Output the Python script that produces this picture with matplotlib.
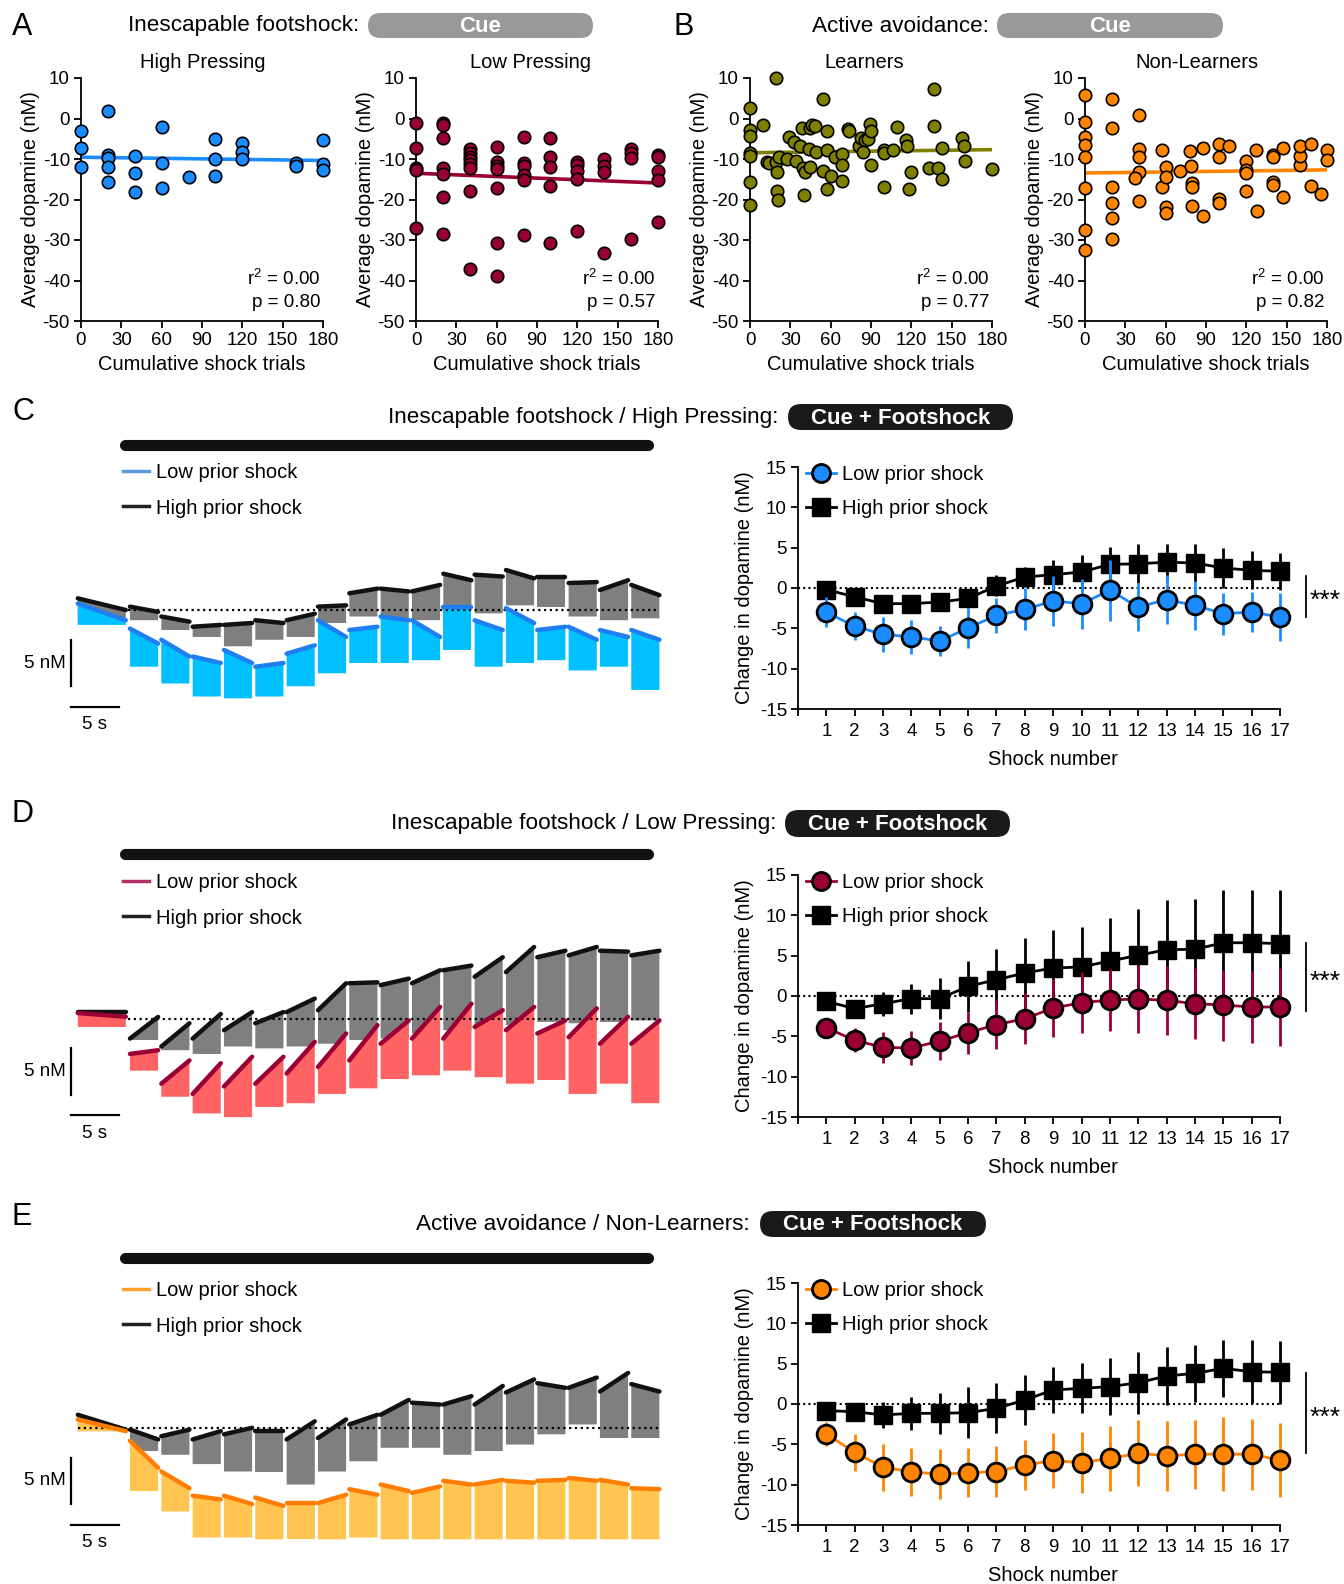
import matplotlib
matplotlib.use("Agg")
import matplotlib.pyplot as plt
import numpy as np
from matplotlib.lines import Line2D
from matplotlib.patches import FancyBboxPatch

plt.rcParams["font.family"] = ["Liberation Sans", "DejaVu Sans"]
plt.rcParams["mathtext.fontset"] = "custom"
plt.rcParams["mathtext.rm"] = "Liberation Sans"
plt.rcParams["axes.unicode_minus"] = False

W, H = 1344, 1584

# ---------------- panel A / B scatter data ----------------
hp_x = [0, 0, 0, 20, 20, 20, 20, 20, 40, 40, 40, 60, 60, 60, 80,
        100, 100, 100, 120, 120, 120, 160, 160, 180, 180, 180]
hp_y = [-3.1, -7.4, -11.9, 1.9, -8.9, -9.7, -11.9, -15.6, -9.3, -13.4, -18.2,
        -2.1, -10.9, -17.1, -14.5, -5.0, -10.1, -14.1, -6.0, -8.2, -9.9,
        -11.1, -11.8, -5.3, -11.3, -12.6]

lp_x = [0, 0, 0, 0, 0,
        20, 20, 20, 20, 20, 20, 20,
        40, 40, 40, 40, 40, 40, 40, 40,
        60, 60, 60, 60, 60, 60, 60,
        80, 80, 80, 80, 80, 80,
        100, 100, 100, 100, 100,
        120, 120, 120, 120, 120,
        140, 140, 140, 140,
        160, 160, 160, 160,
        180, 180, 180, 180, 180]
lp_y = [-1.1, -7.4, -12.1, -12.6, -27.0,
        -1.1, -1.6, -4.9, -12.2, -13.6, -19.3, -28.6,
        -7.6, -8.6, -9.5, -10.3, -11.3, -12.3, -17.9, -37.2,
        -7.1, -10.8, -11.7, -12.5, -17.1, -30.8, -39.0,
        -4.5, -11.1, -11.8, -14.0, -15.2, -28.8,
        -4.8, -9.5, -11.9, -16.6, -30.8,
        -10.8, -11.6, -13.0, -15.0, -27.8,
        -10.1, -11.7, -13.1, -33.1,
        -7.6, -8.6, -9.7, -29.8,
        -8.9, -9.5, -12.9, -15.2, -25.5]

ln_x = [0, 0, 0, 0, 0, 0, 0, 9.4, 12.9, 14, 19.4, 19.4, 20, 20, 20.6, 21.8,
        27.3, 28.8, 32.8, 34, 37, 38.5, 39.7, 40.2, 41, 44, 44.4, 44.4, 46, 48,
        49, 54, 54, 57.6, 57, 57.6, 60.3, 63.3, 68.7, 68.7, 68.7, 73.2, 73.4,
        81, 82.6, 83.7, 85.7, 88, 89, 90.3, 90, 100, 100, 100, 106, 109, 116,
        117, 118, 120, 133.5, 137, 137, 140, 143, 143, 157.6, 159, 159.6, 180]
ln_y = [2.6, -2.8, -4.3, -8.6, -9.2, -15.6, -21.4, -1.6, -10.8, -11.0, 10.0,
        -10.8, -13.1, -17.8, -20.1, -9.6, -10.1, -4.6, -5.7, -10.6, -6.9, -2.4,
        -12.1, -18.9, -13.1, -7.5, -2.4, -11.9, -1.6, -1.8, -8.3, 4.8, -12.9,
        -3.2, -7.9, -17.5, -14.2, -9.6, -8.8, -11.6, -15.4, -2.6, -3.2, -6.9,
        -4.9, -8.2, -5.3, -5.1, -1.4, -3.2, -11.5, -7.7, -8.6, -16.8, -7.7,
        -2.2, -5.3, -6.8, -17.5, -13.1, -12.3, 7.3, -1.8, -12.1, -7.2, -14.9,
        -4.9, -6.9, -10.5, -12.4]

nl_x = [0, 0, 0, 0, 0, 0, 0, 0,
        20, 20, 20, 20, 20, 20,
        40, 40, 40, 40, 37.5, 40,
        57.6, 57.6, 60, 60, 60, 60, 70.7,
        78, 79, 79.4, 79.4, 79.4, 87.6, 88,
        99.8, 99.8, 99.8, 99.8, 107.4,
        120, 120, 120, 120, 127, 128,
        140, 140, 140, 140, 147.6, 147.6,
        159.6, 159.6, 159.6, 168, 168, 175.7, 180, 180]
nl_y = [5.9, -0.9, -4.5, -6.5, -9.4, -17.2, -27.5, -32.5,
        4.9, -2.4, -16.8, -20.8, -24.6, -29.8,
        0.9, -7.5, -9.6, -13.1, -14.6, -20.4,
        -7.7, -17.0, -11.9, -14.5, -21.8, -23.3, -12.9,
        -8.0, -11.7, -16.0, -16.8, -21.5, -7.2, -24.1,
        -6.3, -9.4, -19.9, -20.9, -6.9,
        -10.4, -12.7, -13.5, -17.8, -7.7, -22.8,
        -9.1, -9.4, -15.8, -16.4, -7.2, -19.3,
        -11.5, -9.2, -6.7, -6.3, -16.6, -18.7, -7.9, -10.2]

# ---------------- panels C / D / E: shock-by-shock means ----------------
shock_number = list(range(1, 18))

c_low_mean = [-3.0, -4.75, -5.74, -6.07, -6.57, -4.96, -3.39, -2.64, -1.61,
              -1.94, -0.29, -2.36, -1.45, -2.15, -3.18, -2.98, -3.6]
c_low_err = [1.85, 1.74, 2.2, 2.07, 1.9, 2.44, 2.19, 2.6, 3.1, 3.1, 3.8, 3.0,
             3.0, 3.0, 2.6, 2.5, 3.0]
c_high_mean = [-0.2, -1.1, -1.94, -1.94, -1.74, -1.3, 0.25, 1.36, 1.65, 1.98,
               2.93, 3.0, 3.2, 3.1, 2.48, 2.19, 2.07]
c_high_err = [0.8, 0.8, 0.7, 0.7, 0.8, 1.2, 1.3, 1.25, 1.85, 2.15, 2.1, 2.4,
              2.2, 2.4, 2.5, 2.35, 2.3]

d_low_mean = [-3.93, -5.5, -6.36, -6.45, -5.58, -4.55, -3.55, -2.81, -1.49,
              -0.83, -0.5, -0.37, -0.54, -0.95, -1.12, -1.36, -1.36]
d_low_err = [0.7, 1.5, 1.9, 2.15, 2.4, 2.6, 3.06, 3.2, 3.6, 3.77, 3.88, 4.2,
             4.3, 4.4, 4.4, 4.5, 4.8]
d_high_mean = [-0.66, -1.57, -0.95, -0.33, -0.33, 1.2, 2.02, 2.85, 3.47, 3.6,
               4.34, 5.04, 5.74, 5.79, 6.6, 6.6, 6.5]
d_high_err = [0.5, 0.8, 1.5, 1.86, 2.56, 3.2, 3.77, 4.34, 4.75, 4.95, 5.33,
              5.7, 6.2, 6.2, 6.5, 6.6, 6.6]

e_low_mean = [-3.72, -5.99, -7.85, -8.39, -8.72, -8.51, -8.39, -7.56, -7.02,
              -7.27, -6.74, -6.12, -6.4, -6.24, -6.2, -6.24, -6.94]
e_low_err = [1.5, 2.3, 2.93, 2.97, 3.1, 3.0, 3.2, 3.1, 3.43, 3.8, 4.06, 4.1,
             4.34, 4.3, 4.54, 4.42, 4.55]
e_high_mean = [-0.83, -0.95, -1.36, -1.16, -1.16, -1.07, -0.54, 0.5, 1.74,
               1.94, 2.15, 2.64, 3.47, 3.8, 4.42, 4.0, 3.93]
e_high_err = [0.6, 1.0, 1.57, 2.06, 2.56, 3.2, 3.1, 3.1, 2.9, 3.1, 3.5, 3.85,
              3.55, 3.5, 3.5, 3.93, 3.92]

# ---------------- example traces (nM vs baseline), per shock block ----------------
# pre-cue block: (top at start, top at end, bottom)
c_high_pre = (1.25, 0.0, -1.4)
c_high_top0 = [0.36, -0.7, -1.8, -1.6, -1.1, -1.1, 0.36, 1.8, 2.3, 2.0, 3.9, 3.8, 4.3, 3.6, 2.9, 2.15, 2.7]
c_high_top1 = [-0.2, -1.25, -1.6, -1.4, -1.4, -0.4, 0.5, 2.3, 2.0, 2.7, 3.2, 3.6, 3.4, 3.6, 3.0, 3.2, 1.6]
c_high_bot = [-1.1, -2.15, -2.9, -3.9, -3.2, -2.9, -1.4, -0.7, -1.1, -1.1, 0.0, -0.36, 0.5, 0.36, -0.7, -1.1, -0.9]
c_low_pre = (0.7, -1.1, -1.6)
c_low_top0 = [-2.0, -3.2, -5.0, -4.3, -6.1, -4.7, -1.1, -2.15, -0.7, -1.1, 0.36, -1.1, 0.2, -2.15, -1.8, -2.15, -2.15]
c_low_top1 = [-3.6, -5.0, -5.7, -5.7, -5.7, -3.8, -2.9, -1.8, -1.1, -2.9, 0.36, -2.15, -1.4, -1.8, -3.2, -2.9, -3.2]
c_low_bot = [-6.1, -7.9, -9.3, -9.5, -9.3, -8.2, -6.8, -5.7, -5.7, -5.4, -4.3, -6.1, -5.7, -5.4, -6.5, -6.1, -8.6]

d_high_pre = (0.7, 0.7, -0.2)
d_high_top0 = [-2.15, -3.0, -2.15, -1.25, -0.5, 0.7, 0.9, 3.8, 3.6, 3.8, 5.2, 4.5, 5.0, 6.6, 6.8, 7.3, 6.8]
d_high_top1 = [0.18, -0.5, 0.5, 0.7, 0.7, 2.15, 3.8, 3.9, 4.3, 5.2, 5.7, 6.6, 7.7, 7.3, 7.7, 7.2, 7.3]
d_high_bot = [-2.3, -3.4, -3.8, -3.0, -3.2, -3.0, -2.7, -2.3, -2.15, -1.6, -1.25, -1.1, -0.7, -0.36, -0.5, -0.36, -0.2]
d_low_pre = (0.6, 0.2, -0.9)
d_low_top0 = [-3.8, -7.0, -8.1, -7.3, -7.0, -5.9, -5.2, -4.5, -2.7, -2.15, -2.15, -0.9, -1.25, -1.6, -2.0, -2.7, -2.7]
d_low_top1 = [-3.4, -4.5, -4.8, -4.1, -4.1, -2.5, -1.6, -0.7, -0.2, 1.25, 1.6, 0.9, 1.25, -0.2, 1.1, 0.2, -0.2]
d_low_bot = [-5.6, -8.4, -10.2, -10.6, -9.5, -9.1, -8.1, -7.5, -6.5, -6.1, -5.6, -6.3, -7.0, -6.6, -8.1, -7.0, -9.1]

e_high_pre = (1.4, -0.2, -0.36)
e_high_top0 = [-0.2, -0.9, -1.25, -0.7, -0.36, -1.25, -1.1, 0.36, 1.4, 2.7, 2.5, 2.5, 3.8, 4.8, 4.3, 3.9, 4.7]
e_high_top1 = [-1.25, -0.2, -0.36, 0.0, -0.36, 0.7, 0.9, 1.4, 3.0, 2.5, 3.4, 4.5, 5.2, 4.3, 5.4, 5.9, 3.9]
e_high_bot = [-2.5, -2.9, -3.9, -4.7, -4.7, -6.1, -4.7, -3.6, -2.15, -2.15, -2.9, -2.5, -1.8, -0.7, 0.36, -1.1, -1.1]
e_low_pre = (0.9, -0.36, -0.36)
e_low_top0 = [-1.4, -4.7, -7.3, -7.3, -7.5, -8.1, -8.1, -6.6, -6.1, -7.0, -5.7, -6.1, -5.7, -5.7, -5.4, -5.6, -6.5]
e_low_top1 = [-4.3, -6.5, -7.7, -8.2, -8.4, -8.1, -7.2, -7.2, -6.8, -6.3, -6.1, -5.6, -5.9, -5.6, -5.7, -6.1, -6.6]
e_low_bot = [-6.8, -9.0, -11.8, -11.8, -12.0, -12.0, -12.0, -11.8, -12.0, -12.0, -12.0, -12.0, -12.0, -12.0, -12.0, -12.0, -12.0]

BLUE = "#1a8cff"
MAROON = "#990033"
OLIVE = "#808000"
ORANGE = "#ff8400"

FS = 14.5
TICK_FS = 13.5
HEAD_FS = 16.2

fig = plt.figure(figsize=(W / 100, H / 100), dpi=100)

# overlay in pixel coordinates for headings, pills and cue bars
ov = fig.add_axes([0, 0, 1, 1], zorder=0)
ov.set_xlim(0, W)
ov.set_ylim(H, 0)
ov.axis("off")


def px_axes(x0, y0, x1, y1, **kw):
    return fig.add_axes([x0 / W, 1 - y1 / H, (x1 - x0) / W, (y1 - y0) / H], **kw)


def pill(x0, y0, x1, y1, color, text):
    h = y1 - y0
    ov.add_patch(FancyBboxPatch((x0, y0), x1 - x0, h,
                                boxstyle=f"round,pad=0,rounding_size={h / 2}",
                                fc=color, ec="none"))
    ov.text((x0 + x1) / 2, (y0 + y1) / 2 + 1, text, color="white", fontsize=16,
            fontweight="bold", ha="center", va="center")


def style_axes(ax):
    for s in ("top", "right"):
        ax.spines[s].set_visible(False)
    for s in ("left", "bottom"):
        ax.spines[s].set_linewidth(1.3)
    ax.tick_params(direction="out", length=5, width=1.3, labelsize=TICK_FS, pad=3)


# ---------------- headings A/B ----------------
ov.text(12, 27, "A", fontsize=22, ha="left", va="center")
ov.text(359, 26, "Inescapable footshock:", fontsize=HEAD_FS, ha="right", va="center")
pill(368, 13, 593, 38, "#999999", "Cue")
ov.text(674, 27, "B", fontsize=22, ha="left", va="center")
ov.text(989, 26, "Active avoidance:", fontsize=HEAD_FS, ha="right", va="center")
pill(997, 13, 1223, 38, "#999999", "Cue")


def scatter_panel(x0, xs, ys, color, title, title_x, r2, p):
    ax = px_axes(x0, 78, x0 + 242, 321)
    ax.scatter(xs, ys, s=80, c=color, edgecolors="black", linewidths=1.2,
               zorder=3, clip_on=False)
    slope, icpt = np.polyfit(xs, ys, 1)
    xx = np.array([0, 180])
    ax.plot(xx, slope * xx + icpt, color=color, lw=2.6, zorder=2)
    ax.set_xlim(0, 180)
    ax.set_ylim(-50, 10)
    ax.set_xticks([0, 30, 60, 90, 120, 150, 180])
    ax.set_yticks([10, 0, -10, -20, -30, -40, -50])
    style_axes(ax)
    ax.set_xlabel("Cumulative shock trials", fontsize=FS, labelpad=4)
    ax.set_ylabel("Average dopamine (nM)", fontsize=FS, labelpad=2)
    ax.text(178, -39.5, r"r$^{2}$ = " + r2, fontsize=TICK_FS, ha="right", va="center")
    ax.text(178, -45.5, "p = " + p, fontsize=TICK_FS, ha="right", va="center")
    ov.text(title_x, 63, title, fontsize=FS, ha="center", va="center")
    return ax


scatter_panel(81, hp_x, hp_y, BLUE, "High Pressing", 203, "0.00", "0.80")
scatter_panel(416, lp_x, lp_y, MAROON, "Low Pressing", 530, "0.00", "0.57")
scatter_panel(750, ln_x, ln_y, OLIVE, "Learners", 864, "0.00", "0.77")
scatter_panel(1085, nl_x, nl_y, ORANGE, "Non-Learners", 1197, "0.00", "0.82")

# ---------------- trace + summary panels ----------------
T0_X = 126.3       # pixel x of t = 0
PX_S = 9.7         # pixels per second
PX_NM = 9.3        # pixels per nM
SEG_START = 0.38
SEG_PERIOD = 3.23
SEG_WIDTH = 2.9


def draw_trace(ax, pre, top0, top1, bot, line_c, fill_c, z):
    blocks = [(-5.0, -0.05, pre[0], pre[1], pre[2])]
    for i in range(len(top0)):
        t = SEG_START + SEG_PERIOD * i
        blocks.append((t, t + SEG_WIDTH, top0[i], top1[i], bot[i]))
    for ta, tb, ya, yb, lo in blocks:
        ax.fill([ta, tb, tb, ta], [ya, yb, lo, lo], color=fill_c, lw=0, zorder=z)
        ax.plot([ta, tb], [ya, yb], color=line_c, lw=3.2, solid_capstyle="round",
                zorder=z + 3)


def row(y_base, letter_y, title, title_right, pill_box, bar_y, leg_y,
        high, low, low_line, low_fill, low_leg,
        box_right, lm, le, hm, he, color, sig, dotted_from):
    # heading
    ov.text(12, letter_y, title[0], fontsize=22, ha="left", va="center")
    ov.text(title_right, (pill_box[1] + pill_box[3]) / 2, title[1], fontsize=HEAD_FS,
            ha="right", va="center")
    pill(*pill_box, "#1a1a1a", "Cue + Footshock")
    ov.plot([125, 648], [bar_y, bar_y], color="#111111", lw=8,
            solid_capstyle="round")

    # trace axes
    x0, x1 = 40, 670
    y0, y1 = y_base - 100, y_base + 130
    ax = px_axes(x0, y0, x1, y1)
    ax.set_xlim((x0 - T0_X) / PX_S, (x1 - T0_X) / PX_S)
    ax.set_ylim(-(y1 - y_base) / PX_NM, (y_base - y0) / PX_NM)
    ax.axis("off")
    draw_trace(ax, *high, "#111111", "#7f7f7f", 1)
    draw_trace(ax, *low, low_line, low_fill, 2)
    ax.plot([dotted_from, 54.8], [0, 0], color="black", lw=1.6, ls=(0, (1, 1.6)),
            zorder=3)
    # scale bars: 5 nM and 5 s
    sx = -5.75
    ax.plot([sx, sx], [-3.2, -8.2], color="black", lw=1.6, clip_on=False)
    ax.plot([sx, sx + 5], [-10.4, -10.4], color="black", lw=1.6, clip_on=False)
    ax.text(sx - 0.5, -5.7, "5 nM", fontsize=TICK_FS, ha="right", va="center")
    ax.text(sx + 2.5, -11.4, "5 s", fontsize=TICK_FS, ha="center", va="top")
    handles = [Line2D([], [], color=low_leg, lw=2.5),
               Line2D([], [], color="#222222", lw=2.5)]
    ax.legend(handles, ["Low prior shock", "High prior shock"], loc="upper left",
              bbox_to_anchor=(123 / W, 1 - (leg_y - 8) / H),
              bbox_transform=fig.transFigure, frameon=False, fontsize=FS,
              handlelength=1.3, handletextpad=0.35, labelspacing=0.82, borderpad=0,
              borderaxespad=0)

    # summary axes
    top, bottom = box_right
    ax2 = px_axes(798, top, 1280, bottom)
    ax2.plot([0, 17], [0, 0], color="black", lw=1.5, ls=(0, (1, 1.5)), zorder=1)
    ax2.errorbar(shock_number, hm, yerr=he, color="black", lw=2, elinewidth=2,
                 marker="s", ms=12.5, mfc="black", mec="black", capsize=0,
                 zorder=3, clip_on=False)
    ax2.errorbar(shock_number, lm, yerr=le, color=color, lw=2, elinewidth=2,
                 marker="o", ms=13.5, mfc=color, mec="black", mew=2, capsize=0,
                 zorder=4, clip_on=False)
    ax2.set_xlim(0, 17)
    ax2.set_ylim(-15, 15)
    ax2.set_xticks(range(0, 18))
    ax2.set_xticklabels([""] + [str(s) for s in shock_number])
    ax2.set_yticks([15, 10, 5, 0, -5, -10, -15])
    style_axes(ax2)
    ax2.tick_params(axis="x", pad=5)
    ax2.set_xlabel("Shock number", fontsize=FS, labelpad=7, x=9 / 17)
    ax2.set_ylabel("Change in dopamine (nM)", fontsize=FS, labelpad=4)
    h2 = [Line2D([], [], color=color, lw=2, marker="o", ms=13, mfc=color,
                 mec="black", mew=2),
          Line2D([], [], color="black", lw=2, marker="s", ms=12.5, mfc="black")]
    ax2.legend(h2, ["Low prior shock", "High prior shock"], loc="upper left",
               bbox_to_anchor=(806 / W, 1 - (top - 2) / H),
               bbox_transform=fig.transFigure, frameon=False, fontsize=FS,
               handlelength=1.5, handletextpad=0.3, labelspacing=0.75, borderpad=0,
               borderaxespad=0)
    ax2.plot([17.9, 17.9], sig, color="black", lw=1.3, clip_on=False)
    ax2.text(18.05, (sig[0] + sig[1]) / 2 - 0.6, "***", fontsize=19, ha="left",
             va="center", clip_on=False)


row(610, 412, ("C", "Inescapable footshock / High Pressing:"), 778,
    (788, 404, 1013, 430), 445, 471,
    (c_high_pre, c_high_top0, c_high_top1, c_high_bot),
    (c_low_pre, c_low_top0, c_low_top1, c_low_bot),
    "#1f7ff0", "#00c0ff", "#5b9be0",
    (467, 709), c_low_mean, c_low_err, c_high_mean, c_high_err, BLUE,
    (1.5, -3.6), 0.2)

row(1018.6, 814, ("D", "Inescapable footshock / Low Pressing:"), 776,
    (785, 810, 1010, 837), 854, 881,
    (d_high_pre, d_high_top0, d_high_top1, d_high_bot),
    (d_low_pre, d_low_top0, d_low_top1, d_low_bot),
    "#9a0036", "#ff6262", "#b0306a",
    (875, 1117), d_low_mean, d_low_err, d_high_mean, d_high_err, MAROON,
    (6.6, -1.9), 0.2)

row(1427.8, 1217, ("E", "Active avoidance / Non-Learners:"), 750,
    (760, 1211, 986, 1237), 1258, 1289,
    (e_high_pre, e_high_top0, e_high_top1, e_high_bot),
    (e_low_pre, e_low_top0, e_low_top1, e_low_bot),
    "#ff7d00", "#ffc550", "#ffa030",
    (1283, 1525), e_low_mean, e_low_err, e_high_mean, e_high_err, ORANGE,
    (3.9, -6.1), -5.0)

fig.savefig("out.png", dpi=100)
